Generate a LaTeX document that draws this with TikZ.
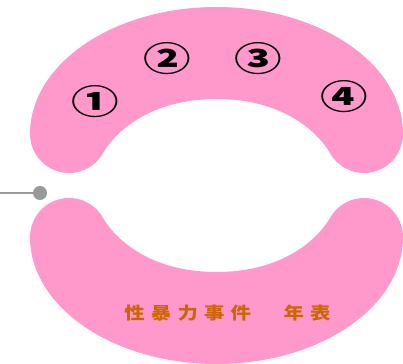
\documentclass[tikz,border=0pt]{standalone}
\usepackage{fontspec}
\newfontfamily\jpfont{Noto Sans CJK JP}
\newfontfamily\jptitle[LetterSpace=30]{Noto Sans CJK JP}
\definecolor{bandpink}{HTML}{FF99CC}
\definecolor{titleorange}{HTML}{CC6600}
\definecolor{dotgray}{HTML}{999999}

\begin{document}
\begin{tikzpicture}[x=1pt,y=1pt,
  band/.style={fill=bandpink,draw=none},
  circnum/.style={font=\jpfont\bfseries\fontsize{34}{34}\selectfont,xscale=1.4,inner sep=0pt},
  title/.style={font=\jptitle\bfseries\fontsize{17}{17}\selectfont,xscale=1.2,text=titleorange,inner sep=0pt}]
\useasboundingbox (0,0) rectangle (403,363);
% upper band
\fill[band] (30,229) arc[start angle=180,end angle=0,x radius=186.5,y radius=127]
  arc[start angle=0,end angle=-150,radius=39]
  .. controls (318,231) and (283,264) .. (216.5,264)
  .. controls (150,264) and (115,231) .. (102.8,209.5)
  arc[start angle=-30,end angle=-180,radius=39] -- cycle;
% lower band
\fill[band] (30,126) arc[start angle=180,end angle=360,x radius=186.5,y radius=127]
  arc[start angle=0,end angle=150,radius=39]
  .. controls (318,124) and (283,91) .. (216.5,91)
  .. controls (150,91) and (115,124) .. (102.8,145.5)
  arc[start angle=30,end angle=180,radius=39] -- cycle;
% numbers
\node[circnum] (n1) at (95,261) {①};
\node[circnum] (n2) at (167,304) {②};
\node[circnum] (n3) at (258,304) {③};
\node[circnum] (n4) at (344,266) {④};
% title
\node[title] (tbl) at (227.5,50) {性暴力事件　年表};
% handle
\node[circle,fill=dotgray,minimum size=14pt,inner sep=0pt] (knob) at (40,170) {};
\coordinate (wire) at (0,170);
\draw[dotgray,line width=1.5pt] (wire) -- (knob);
\end{tikzpicture}
\end{document}
